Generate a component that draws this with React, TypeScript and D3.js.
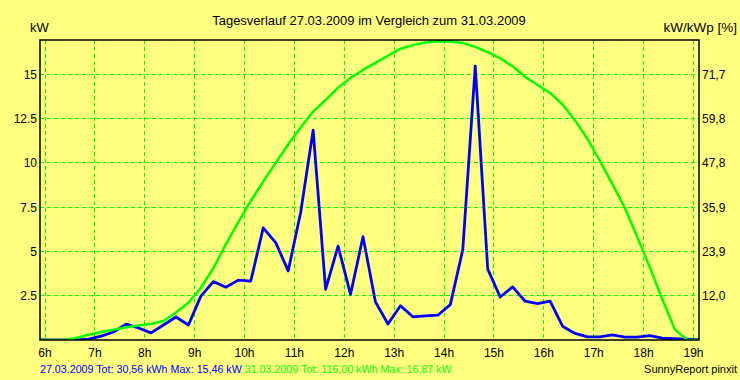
import React from "react";
import * as d3 from "d3";

const hours = [
  5.875, 6.125, 6.375, 6.625, 6.875, 7.125, 7.375, 7.625, 7.875, 8.125, 8.375, 8.625, 8.875,
  9.125, 9.375, 9.625, 9.875, 10.125, 10.375, 10.625, 10.875, 11.125, 11.375, 11.625, 11.875,
  12.125, 12.375, 12.625, 12.875, 13.125, 13.375, 13.625, 13.875, 14.125, 14.375, 14.625, 14.875,
  15.125, 15.375, 15.625, 15.875, 16.125, 16.375, 16.625, 16.875, 17.125, 17.375, 17.625, 17.875,
  18.125, 18.375, 18.625, 18.875, 19.125,
];

const day27 = [
  0, 0, 0, 0, 0.05, 0.22, 0.45, 0.9, 0.68, 0.4, 0.85, 1.3, 0.85,
  2.48, 3.3, 2.98, 3.38, 3.33, 6.33, 5.5, 3.9, 7.2, 11.85, 2.86, 5.3,
  2.58, 5.83, 2.15, 0.9, 1.93, 1.31, 1.36, 1.4, 2.0, 5.1, 15.46, 4.0,
  2.43, 3.0, 2.19, 2.06, 2.19, 0.78, 0.37, 0.18, 0.18, 0.29, 0.16, 0.16,
  0.25, 0.1, 0.07, 0.05, 0,
];

const day31 = [
  0, 0, 0, 0.12, 0.3, 0.45, 0.58, 0.72, 0.82, 0.92, 1.07, 1.55, 2.1,
  2.95, 4.05, 5.4, 6.65, 7.85, 8.95, 10.0, 11.05, 12.0, 12.9, 13.55, 14.25,
  14.8, 15.25, 15.65, 16.05, 16.45, 16.65, 16.8, 16.87, 16.86, 16.77, 16.55, 16.25,
  15.9, 15.45, 14.85, 14.4, 13.95, 13.3, 12.4, 11.35, 10.1, 8.8, 7.45, 5.8,
  4.1, 2.3, 0.6, 0, 0,
];

const xTicks = [6, 7, 8, 9, 10, 11, 12, 13, 14, 15, 16, 17, 18, 19];
const yTicks = [2.5, 5, 7.5, 10, 12.5, 15];
const yTickLabels = ["2.5", "5", "7.5", "10", "12.5", "15"];
const rightTickLabels = ["12,0", "23,9", "35,9", "47,8", "59,8", "71,7"];

const title = "Tagesverlauf 27.03.2009 im Vergleich zum 31.03.2009";
const legendBlue = "27.03.2009 Tot: 30,56 kWh Max: 15,46 kW";
const legendGreen = "31.03.2009 Tot: 116,00 kWh Max: 16,87 kW";
const credit = "SunnyReport pinxit";

const W = 740;
const H = 380;
const L = 40, R = 699, T = 40, B = 340;
const BG = "#ffff80";
const GREEN = "#00ff00";
const BLUE = "#0000ff";
const FONT = "'Liberation Sans', Arial, sans-serif";

export default function App() {
  const x = d3.scaleLinear().domain([6, 19]).range([45, 693.5]);
  const y = d3.scaleLinear().domain([0, 16.94]).range([B, T]);

  const line = (vals: number[]) =>
    d3
      .line<number>()
      .x((_, i) => x(hours[i]))
      .y((v) => y(v))(vals) || "";

  return (
    <svg
      width={W}
      height={H}
      style={{ position: "absolute", left: 0, top: 0, display: "block" }}
      fontFamily={FONT}
    >
      <defs>
        <clipPath id="plot">
          <rect x={L} y={T} width={R - L} height={B - T} />
        </clipPath>
      </defs>
      <rect x={0} y={0} width={W} height={H} fill={BG} />

      <text x={369} y={25} fontSize={13} textAnchor="middle" fill="#000">
        {title}
      </text>
      <text x={30} y={32} fontSize={13} fill="#000">kW</text>
      <text x={737} y={32} fontSize={13.5} textAnchor="end" fill="#000">kW/kWp [%]</text>

      {/* grid */}
      <g stroke={GREEN} strokeWidth={1} strokeDasharray="4,3" shapeRendering="crispEdges">
        {xTicks.map((t) => (
          <line key={"gx" + t} x1={x(t)} x2={x(t)} y1={T} y2={B} />
        ))}
        {yTicks.map((t) => (
          <line key={"gy" + t} x1={L} x2={R} y1={y(t)} y2={y(t)} />
        ))}
      </g>

      {/* series */}
      <g clipPath="url(#plot)" fill="none" strokeLinejoin="round">
        <path d={line(day27)} stroke={BLUE} strokeWidth={2.8} />
        <path d={line(day31)} stroke={GREEN} strokeWidth={2.5} />
      </g>

      {/* frame */}
      <rect x={L} y={T} width={R - L} height={B - T} fill="none" stroke="#000" strokeWidth={1.5} />

      {/* y tick labels */}
      {yTicks.map((t, i) => (
        <text key={"yl" + t} x={37} y={y(t) + 4.5} fontSize={12} textAnchor="end" fill="#000">
          {yTickLabels[i]}
        </text>
      ))}
      {yTicks.map((t, i) => (
        <text key={"yr" + t} x={702} y={y(t) + 4.5} fontSize={12} fill="#000">
          {rightTickLabels[i]}
        </text>
      ))}

      {/* x tick labels */}
      {xTicks.map((t) => (
        <text key={"xl" + t} x={x(t)} y={357} fontSize={12} textAnchor="middle" fill="#000">
          {t + "h"}
        </text>
      ))}

      {/* legend */}
      <text x={40} y={373} fontSize={10.7} xmlSpace="preserve">
        <tspan fill={BLUE}>{legendBlue + " "}</tspan>
        <tspan fill={GREEN}>{legendGreen}</tspan>
      </text>
      <text x={737} y={373} fontSize={11} textAnchor="end" fill="#000">{credit}</text>
    </svg>
  );
}
